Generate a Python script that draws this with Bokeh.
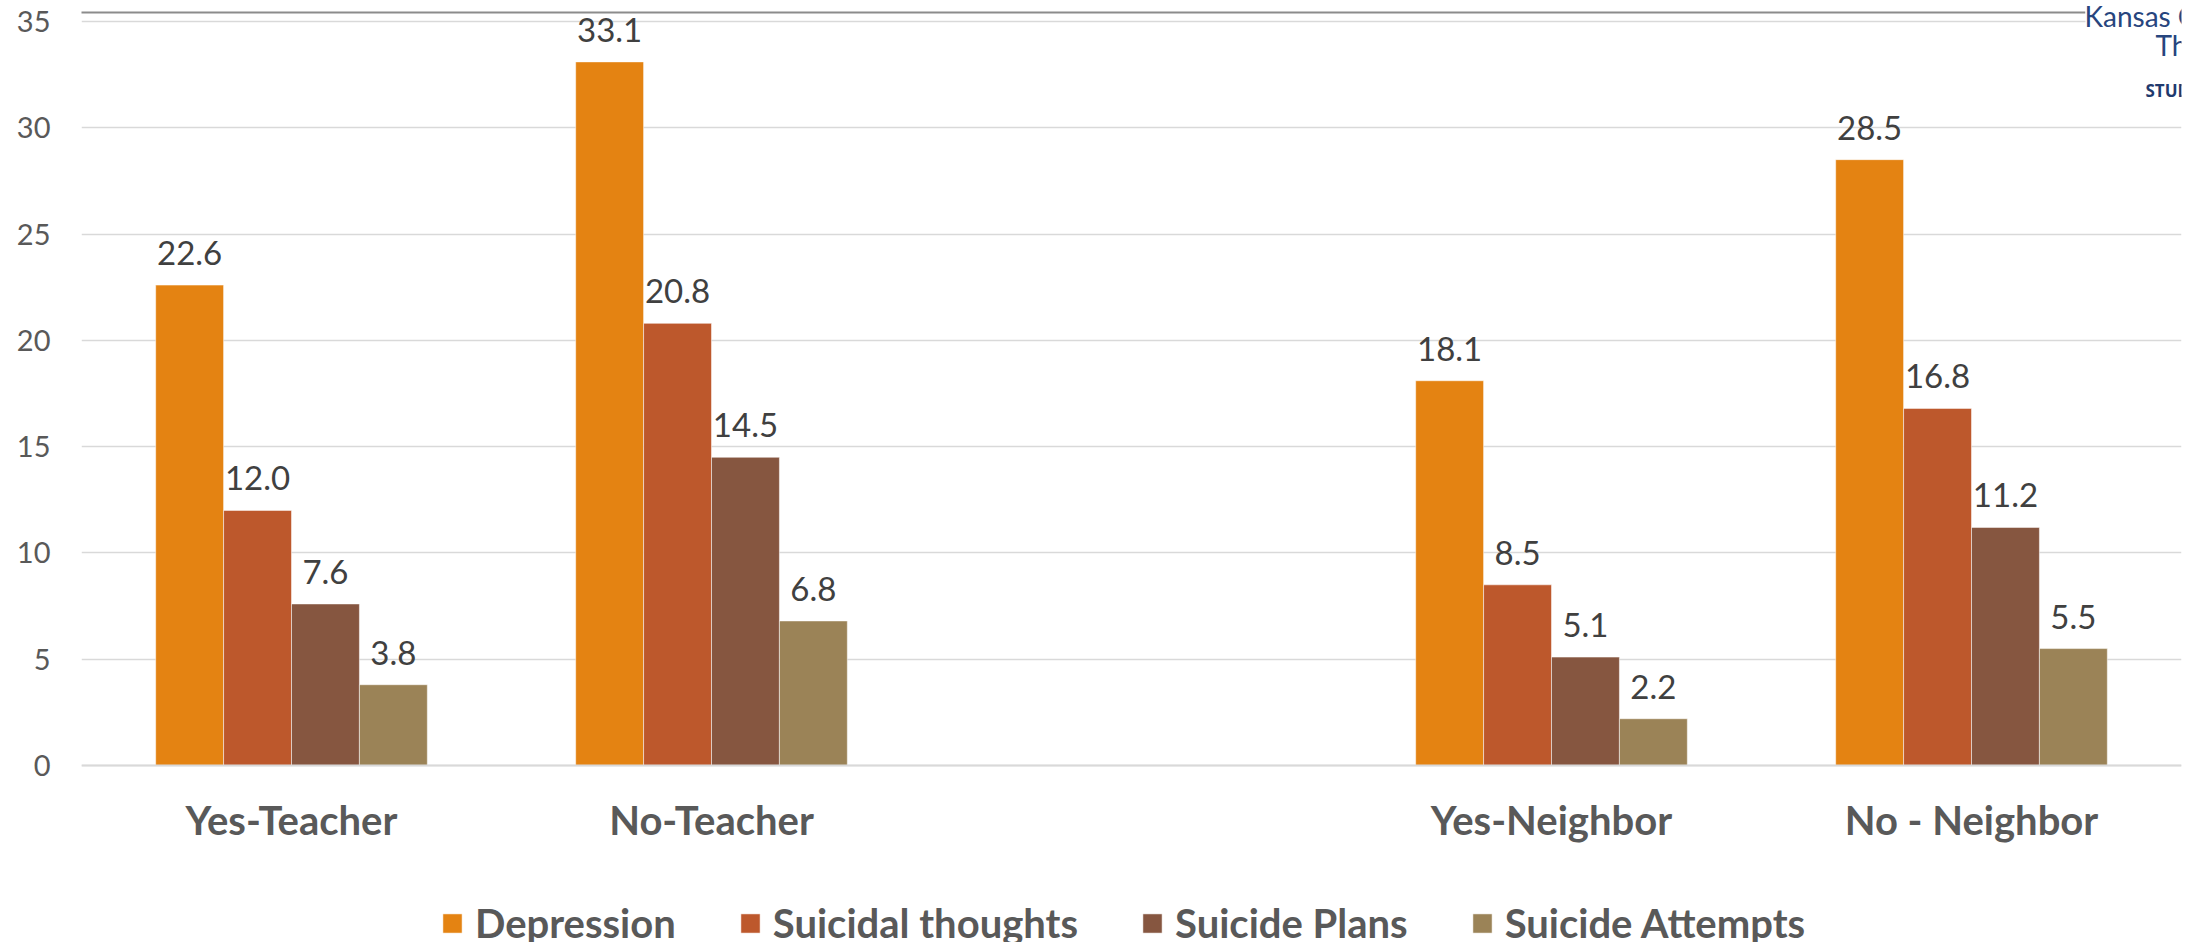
from bokeh.plotting import figure
from bokeh.models import ColumnDataSource, FactorRange, Range1d, FixedTicker, BoxAnnotation, Label, Legend, LegendItem
from bokeh.transform import dodge
from bokeh.core.properties import value
from bokeh.embed import file_html
from bokeh.resources import INLINE

# ---- data ----
categories = ["Yes-Teacher", "No-Teacher", " ", "Yes-Neighbor", "No - Neighbor"]
bar_categories = ["Yes-Teacher", "No-Teacher", "Yes-Neighbor", "No - Neighbor"]
series = ["Depression", "Suicidal thoughts", "Suicide Plans", "Suicide Attempts"]
depression = [22.6, 33.1, 18.1, 28.5]
suicidal_thoughts = [12.0, 20.8, 8.5, 16.8]
suicide_plans = [7.6, 14.5, 5.1, 11.2]
suicide_attempts = [3.8, 6.8, 2.2, 5.5]
y_ticks = [0, 5, 10, 15, 20, 25, 30, 35]
colors = ["#E48312", "#BD582C", "#865640", "#9B8357"]

# ---- layout constants (px) ----
W, H = 2186, 942
LEFT, RIGHT = 81, 5
FRAME_W = W - LEFT - RIGHT
ZERO_Y = 765          # pixel row of y = 0
PX_PER_UNIT = (765 - 21) / 35.0
Y_END = ZERO_Y / PX_PER_UNIT
Y_START = -(H - ZERO_Y) / PX_PER_UNIT
BAR_W = 0.1617

def sx(px):  # canvas x -> synthetic categorical coordinate
    return (px - LEFT) / (FRAME_W / len(categories))

def sy(py):  # canvas y -> data y
    return (ZERO_Y - py) / PX_PER_UNIT

src = ColumnDataSource(dict(
    cat=bar_categories,
    s0=depression, s1=suicidal_thoughts, s2=suicide_plans, s3=suicide_attempts,
    l0=["%.1f" % v for v in depression],
    l1=["%.1f" % v for v in suicidal_thoughts],
    l2=["%.1f" % v for v in suicide_plans],
    l3=["%.1f" % v for v in suicide_attempts],
))

p = figure(x_range=FactorRange(*categories, range_padding=0, factor_padding=0),
           y_range=Range1d(Y_START, Y_END),
           width=W, height=H,
           output_backend="svg", toolbar_location=None,
           min_border_left=LEFT, min_border_right=RIGHT, min_border_top=0, min_border_bottom=0,
           outline_line_color=None, background_fill_color="white", border_fill_color="white")

renderers = []
for i, name in enumerate(series):
    off = (i - 1.5) * BAR_W
    r = p.vbar(x=dodge("cat", off, range=p.x_range), top="s%d" % i, width=BAR_W, source=src,
               fill_color=colors[i], line_color="white", line_alpha=0.5, line_width=1)
    renderers.append(r)
    p.text(x=dodge("cat", off, range=p.x_range), y="s%d" % i, text="l%d" % i, source=src,
           text_align="center", text_baseline="alphabetic", y_offset=-32,
           text_font=value("Lato"), text_font_size="33px", text_color="#404040")

# axes
p.yaxis.ticker = FixedTicker(ticks=y_ticks)
p.yaxis.axis_line_color = None
p.yaxis.major_tick_line_color = None
p.yaxis.minor_tick_line_color = None
p.yaxis.major_tick_out = 0
p.yaxis.major_label_standoff = 31
p.yaxis.major_label_text_font = "Lato"
p.yaxis.major_label_text_font_size = "29px"
p.yaxis.major_label_text_color = "#595959"

p.xaxis.fixed_location = 0
p.xaxis.axis_line_color = "#D9D9D9"
p.xaxis.axis_line_width = 2
p.xaxis.major_tick_line_color = None
p.xaxis.minor_tick_line_color = None
p.xaxis.major_tick_out = 0
p.xaxis.major_label_standoff = 30
p.xaxis.major_label_text_font = "Lato"
p.xaxis.major_label_text_font_style = "bold"
p.xaxis.major_label_text_font_size = "40px"
p.xaxis.major_label_text_color = "#595959"

p.ygrid.ticker = FixedTicker(ticks=y_ticks)
p.ygrid.grid_line_color = "#D9D9D9"
p.ygrid.grid_line_width = 1.5
p.xgrid.visible = False

legend = Legend(items=[LegendItem(label=n, renderers=[r]) for n, r in zip(series, renderers)],
                orientation="horizontal", location=(359, -5),
                glyph_width=24, glyph_height=24, label_standoff=11, spacing=62,
                label_text_font="Lato", label_text_font_style="bold",
                label_text_font_size="40px", label_text_color="#595959",
                border_line_color=None, background_fill_alpha=0, padding=0, margin=0)
p.add_layout(legend, "center")

# decorative slide elements (top line and cut-off logo)
p.add_layout(BoxAnnotation(left=sx(59), right=sx(2085), top=sy(11), bottom=sy(13),
                           fill_color="#8C8C8C", fill_alpha=1, line_color=None))
p.add_layout(BoxAnnotation(left=sx(2085), right=len(categories), top=Y_END, bottom=sy(100),
                           fill_color="white", fill_alpha=1, line_color=None))
p.add_layout(Label(x=sx(2084), y=sy(15), text="Kansas Communities", text_font="Lato",
                   text_font_size="28px", text_color="#27457E", text_baseline="alphabetic"))
p.add_layout(Label(x=sx(2155), y=sy(44), text="That Care", text_font="Lato",
                   text_font_size="28px", text_color="#27457E", text_baseline="alphabetic"))
p.add_layout(Label(x=sx(2145), y=sy(90), text="STUDENT SURVEY", text_font="Open Sans",
                   text_font_style="bold", text_font_size="17px", text_color="#1F3A6E",
                   text_baseline="alphabetic"))

open("out.html", "w").write(file_html(p, INLINE))
